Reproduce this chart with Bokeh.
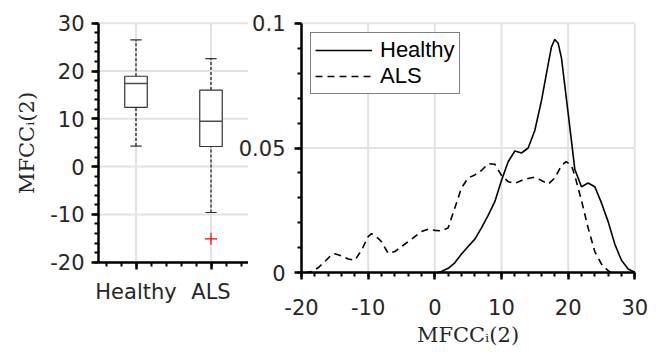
import numpy as np
from bokeh.plotting import figure
from bokeh.models import Range1d, FixedTicker, Legend, LegendItem
from bokeh.layouts import row
from bokeh.embed import file_html
from bokeh.resources import INLINE

# ---------------- data ----------------
groups = ["Healthy", "ALS"]
group_pos = [1, 2]
q1 = [12.4, 4.2]
med = [17.4, 9.5]
q3 = [18.9, 16.0]
whisk_lo = [4.3, -9.6]
whisk_hi = [26.5, 22.6]
outlier_pos = [2]
outlier_val = [-15.1]

healthy_x = [0.3, 1, 2, 3, 4, 5, 6, 7, 8, 9, 10, 11, 12, 13, 14, 15, 16, 17,
             17.5, 18, 18.5, 19, 20, 21, 22, 23, 24, 25, 26, 27, 28, 29, 30]
healthy_y = [0.0, 0.0005, 0.0018, 0.004, 0.0075, 0.0105, 0.0135, 0.018, 0.023,
             0.0285, 0.037, 0.0445, 0.0488, 0.048, 0.050, 0.057, 0.069, 0.0835,
             0.0905, 0.0935, 0.092, 0.086, 0.064, 0.0415, 0.0345, 0.036, 0.0345,
             0.028, 0.0205, 0.0115, 0.005, 0.0015, 0.0002]

als_x = [-19.5, -18.5, -17.5, -16.5, -15.5, -15, -14, -13, -12, -11, -10, -9.5,
         -9, -8, -7, -6, -5, -4, -3, -2, -1, 0, 1, 2, 3, 4, 5, 6, 7, 8, 9, 10,
         11, 12, 13, 14, 15, 16, 17, 18, 19, 19.7, 20.5, 21, 22, 23, 24, 25,
         26, 26.5]
als_y = [0.0, 0.0005, 0.002, 0.0045, 0.0072, 0.0076, 0.0068, 0.0055, 0.005,
         0.009, 0.0145, 0.0157, 0.015, 0.0125, 0.0078, 0.0085, 0.0105, 0.0125,
         0.0145, 0.0165, 0.0175, 0.017, 0.0168, 0.018, 0.026, 0.034, 0.038,
         0.0392, 0.041, 0.0437, 0.0435, 0.039, 0.0365, 0.0358, 0.037, 0.0378,
         0.0383, 0.037, 0.0355, 0.038, 0.043, 0.0445, 0.043, 0.039, 0.029,
         0.018, 0.0085, 0.0035, 0.0008, 0.0]

box_x_bounds = [0.5, 2.5]
box_y_ticks = [-20, -10, 0, 10, 20, 30]
box_y_labels = ["-20", "-10", "0", "10", "20", "30"]
dens_x_ticks = [-20, -10, 0, 10, 20, 30]
dens_x_labels = ["-20", "-10", "0", "10", "20", "30"]
dens_y_ticks = [0, 0.05, 0.1]
dens_y_labels = ["0", "0.05", "0.1"]
axis_title = "MFCC\u1d62(2)"

# ---------------- styles / layout (pixels) ----------------
TICK_FONT = "DejaVu Sans"
TICK_SIZE = "21px"
TITLE_FONT = "DejaVu Serif"
TITLE_SIZE = "21px"
GRID = "#e2e2e2"
INK = "#262626"
H = 356
W1 = 248
W2 = 416
OVERLAP = 12


def span(v0, p0, v1, p1, pmin, pmax):
    """Range whose values v0, v1 land on canvas pixels p0, p1."""
    k = (v1 - v0) / (p1 - p0)
    return Range1d(v0 + (pmin - p0) * k, v0 + (pmax - p0) * k)


def style_axis(ax, standoff):
    ax.axis_line_color = "black"
    ax.axis_line_width = 2.5
    ax.major_tick_line_color = "black"
    ax.major_tick_line_width = 2.5
    ax.major_tick_out = 7
    ax.major_tick_in = 0
    ax.minor_tick_line_color = "black"
    ax.minor_tick_line_width = 2
    ax.minor_tick_out = 4
    ax.minor_tick_in = 0
    ax.major_label_text_font = TICK_FONT
    ax.major_label_text_font_size = TICK_SIZE
    ax.major_label_text_color = INK
    ax.major_label_standoff = standoff
    ax.axis_label_text_font = TITLE_FONT
    ax.axis_label_text_font_size = TITLE_SIZE
    ax.axis_label_text_font_style = "normal"
    ax.axis_label_text_color = INK


def bare(p):
    p.outline_line_color = None
    p.grid.visible = False
    p.min_border_left = 0
    p.min_border_right = 0
    p.min_border_top = 0
    p.min_border_bottom = 0


# ---------------- left: box plot ----------------
y_lo, y_hi = min(box_y_ticks), max(box_y_ticks)
bx_lo, bx_hi = box_x_bounds
p1 = figure(width=W1, height=H,
            x_range=span(bx_lo, 98, bx_hi, 248, 0, W1),
            y_range=span(y_hi, 22.7, y_lo, 261.7, H, 0),
            output_backend="svg", toolbar_location=None)
bare(p1)
p1.background_fill_color = "white"
p1.border_fill_color = "white"

# grid lines
p1.segment(x0=bx_lo, y0=box_y_ticks, x1=bx_hi, y1=box_y_ticks,
           line_color=GRID, line_width=2)
p1.segment(x0=group_pos, y0=y_lo, x1=group_pos, y1=y_hi,
           line_color=GRID, line_width=2)

x_minor = [round(0.6 + 0.2 * i, 2) for i in range(10)]
p1.xaxis.ticker = FixedTicker(ticks=group_pos, minor_ticks=x_minor)
p1.xaxis.major_label_overrides = {pos: g for pos, g in zip(group_pos, groups)}
p1.xaxis.fixed_location = y_lo
p1.xaxis.bounds = (bx_lo, bx_hi)
y_minor = list(range(-20, 31, 2))
p1.yaxis.ticker = FixedTicker(ticks=box_y_ticks, minor_ticks=y_minor)
p1.yaxis.major_label_overrides = {t: l for t, l in zip(box_y_ticks, box_y_labels)}
p1.yaxis.fixed_location = bx_lo
p1.yaxis.bounds = (y_lo, y_hi)
p1.yaxis.axis_label = axis_title
p1.yaxis.axis_label_standoff = 8
style_axis(p1.xaxis[0], 11)
style_axis(p1.yaxis[0], 7)

pos = np.array(group_pos, dtype=float)
half_box = 0.15
half_cap = 0.075

p1.segment(x0=pos, y0=q3, x1=pos, y1=whisk_hi, line_color="black",
           line_width=1.1, line_dash="3 2")
p1.segment(x0=pos, y0=whisk_lo, x1=pos, y1=q1, line_color="black",
           line_width=1.1, line_dash="3 2")
p1.segment(x0=pos - half_cap, y0=whisk_hi, x1=pos + half_cap, y1=whisk_hi,
           line_color="#333333", line_width=1.2)
p1.segment(x0=pos - half_cap, y0=whisk_lo, x1=pos + half_cap, y1=whisk_lo,
           line_color="#333333", line_width=1.2)
p1.vbar(x=pos, width=2 * half_box, bottom=q1, top=q3, fill_color="white",
        line_color="#333333", line_width=1.2)
p1.segment(x0=pos - half_box, y0=med, x1=pos + half_box, y1=med,
           line_color="#4d4d4d", line_width=1.4)
p1.scatter(x=outlier_pos, y=outlier_val, marker="cross", size=12,
           line_color="red", line_width=1.2)

# ---------------- right: densities ----------------
dx_lo, dx_hi = min(dens_x_ticks), max(dens_x_ticks)
d_lo, d_hi = min(dens_y_ticks), max(dens_y_ticks)
x0_px = W1 - OVERLAP
p2 = figure(width=W2, height=H,
            x_range=span(dx_lo, 301 - x0_px, dx_hi, 634.3 - x0_px, 0, W2),
            y_range=span(d_hi, 22.7, d_lo, 272.3, H, 0),
            output_backend="svg", toolbar_location=None,
            margin=(0, 0, 0, -OVERLAP))
bare(p2)
p2.background_fill_alpha = 0
p2.border_fill_alpha = 0

p2.segment(x0=dx_lo, y0=dens_y_ticks, x1=dx_hi, y1=dens_y_ticks,
           line_color=GRID, line_width=2)
p2.segment(x0=dens_x_ticks, y0=d_lo, x1=dens_x_ticks, y1=d_hi,
           line_color=GRID, line_width=2)

p2.xaxis.ticker = FixedTicker(ticks=dens_x_ticks,
                              minor_ticks=list(range(-20, 31, 2)))
p2.xaxis.major_label_overrides = {t: l for t, l in zip(dens_x_ticks, dens_x_labels)}
p2.xaxis.fixed_location = d_lo
p2.xaxis.bounds = (dx_lo, dx_hi)
p2.xaxis.axis_label = axis_title
p2.xaxis.axis_label_standoff = 5
p2.yaxis.ticker = FixedTicker(ticks=dens_y_ticks,
                              minor_ticks=[round(0.01 * i, 2) for i in range(11)])
p2.yaxis.major_label_overrides = {t: l for t, l in zip(dens_y_ticks, dens_y_labels)}
p2.yaxis.fixed_location = dx_lo
p2.yaxis.bounds = (d_lo, d_hi)
style_axis(p2.xaxis[0], 19)
style_axis(p2.yaxis[0], 9)

r_h = p2.line(healthy_x, healthy_y, line_color="black", line_width=1.6)
r_a = p2.line(als_x, als_y, line_color="black", line_width=1.6,
              line_dash="7 5")

legend = Legend(items=[LegendItem(label=groups[0], renderers=[r_h]),
                       LegendItem(label=groups[1], renderers=[r_a])],
                location=(310 - x0_px, H - 33 - 61))
legend.border_line_color = "black"
legend.border_line_width = 1.5
legend.background_fill_color = "white"
legend.background_fill_alpha = 1
legend.label_text_font = "Liberation Sans"
legend.label_text_font_size = "22px"
legend.label_text_color = "black"
legend.glyph_width = 57
legend.glyph_height = 20
legend.label_height = 20
legend.label_standoff = 8
legend.padding = 4
legend.spacing = 0
legend.margin = 0
p2.add_layout(legend)

layout = row(p1, p2)
open("out.html", "w").write(file_html(layout, INLINE))
